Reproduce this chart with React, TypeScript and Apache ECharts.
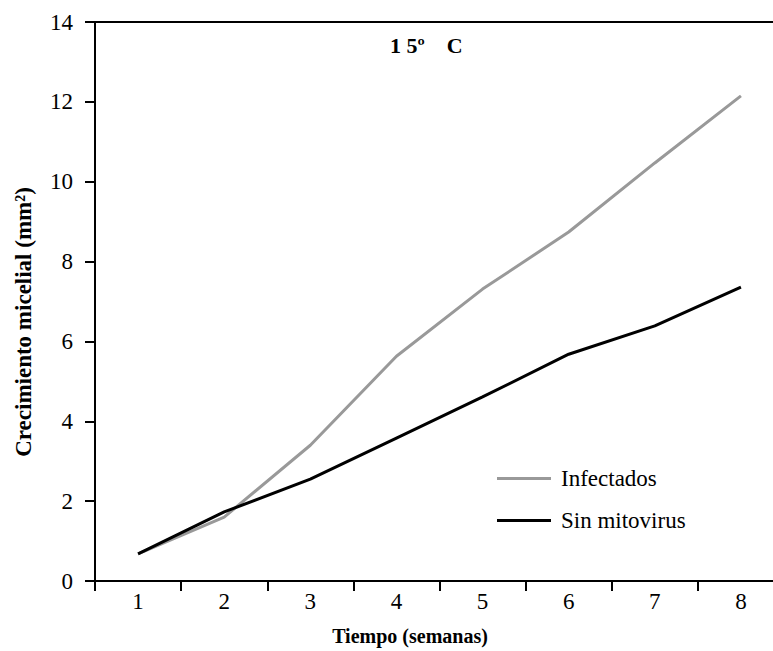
import React, { useEffect, useRef } from "react";
import * as echarts from "echarts";

const weeks = ["1", "2", "3", "4", "5", "6", "7", "8"];
const infectados = [0.68, 1.6, 3.4, 5.63, 7.31, 8.74, 10.47, 12.15];
const sinMitovirus = [0.68, 1.73, 2.55, 3.58, 4.61, 5.68, 6.39, 7.36];
const yTicks = { min: 0, max: 14, interval: 2 };

const FONT = "'Liberation Serif', 'Times New Roman', serif";

export default function App() {
  const ref = useRef<HTMLDivElement>(null);
  useEffect(() => {
    if (!ref.current) return;
    const chart = echarts.init(ref.current, undefined, { renderer: "svg" });
    chart.setOption({
      animation: false,
      backgroundColor: "#fff",
      textStyle: { fontFamily: FONT },
      grid: { left: 95, top: 22, bottom: 70, right: 0 },
      xAxis: [
        {
          type: "category",
          data: weeks,
          boundaryGap: true,
          axisLine: { lineStyle: { color: "#000", width: 2 } },
          axisTick: { show: true, length: 10, lineStyle: { color: "#000", width: 2 } },
          axisLabel: { color: "#000", fontFamily: FONT, fontSize: 23, margin: 9 },
          splitLine: { show: false },
        },
        {
          type: "category",
          data: weeks,
          position: "top",
          axisLine: { show: true, lineStyle: { color: "#000", width: 2 } },
          axisTick: { show: false },
          axisLabel: { show: false },
          splitLine: { show: false },
        },
      ],
      yAxis: {
        type: "value",
        min: yTicks.min,
        max: yTicks.max,
        interval: yTicks.interval,
        axisLine: { show: true, lineStyle: { color: "#000", width: 2 } },
        axisTick: { show: true, length: 10, lineStyle: { color: "#000", width: 2 } },
        axisLabel: { color: "#000", fontFamily: FONT, fontSize: 23, margin: 22 },
        splitLine: { show: false },
      },
      legend: {
        orient: "vertical",
        left: 492,
        top: 462,
        icon: "rect",
        itemWidth: 54,
        itemHeight: 3,
        itemGap: 19,
        textStyle: { color: "#000", fontFamily: FONT, fontSize: 23, lineHeight: 23, padding: [0, 0, 0, 5] },
        data: ["Infectados", "Sin mitovirus"],
      },
      graphic: [
        {
          type: "text",
          left: 390,
          top: 34,
          style: { text: "1 5º    C", fontFamily: FONT, fontWeight: "bold", fontSize: 22, fill: "#000" },
        },
        {
          type: "text",
          x: 410,
          y: 636,
          style: {
            text: "Tiempo (semanas)",
            fontFamily: FONT,
            fontWeight: "bold",
            fontSize: 20,
            fill: "#000",
            align: "center",
            verticalAlign: "middle",
          },
        },
        {
          type: "text",
          x: 23,
          y: 322,
          rotation: Math.PI / 2,
          style: {
            text: "Crecimiento micelial (mm²)",
            fontFamily: FONT,
            fontWeight: "bold",
            fontSize: 23,
            fill: "#000",
            align: "center",
            verticalAlign: "middle",
          },
        },
      ],
      series: [
        {
          name: "Infectados",
          type: "line",
          data: infectados,
          symbol: "none",
          lineStyle: { color: "#999999", width: 3 },
          itemStyle: { color: "#999999" },
        },
        {
          name: "Sin mitovirus",
          type: "line",
          data: sinMitovirus,
          symbol: "none",
          lineStyle: { color: "#000000", width: 3 },
          itemStyle: { color: "#000000" },
        },
      ],
    });
    return () => chart.dispose();
  }, []);
  return (
    <div style={{ position: "absolute", left: 0, top: 0, width: 773, height: 651, overflow: "hidden" }}>
      <div ref={ref} style={{ width: 784, height: 651 }} />
    </div>
  );
}
